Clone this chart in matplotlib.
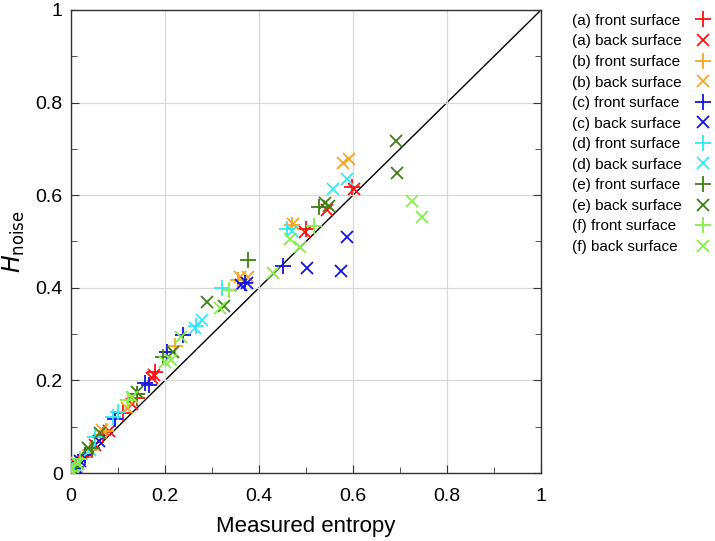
import matplotlib
matplotlib.use("Agg")
import matplotlib.pyplot as plt
from matplotlib.ticker import MultipleLocator, FuncFormatter

plt.rcParams['font.family'] = ['Liberation Sans', 'DejaVu Sans']

labels = ["(a) front surface", "(a) back surface", "(b) front surface", "(b) back surface",
          "(c) front surface", "(c) back surface", "(d) front surface", "(d) back surface",
          "(e) front surface", "(e) back surface", "(f) front surface", "(f) back surface"]
colors = ["#ff1010", "#ff1010", "#f5a623", "#f5a623", "#1414e0", "#1414e0",
          "#30e8f8", "#30e8f8", "#3f7f14", "#3f7f14", "#84f048", "#84f048"]
markers = ["+", "x"] * 6

a_front_x = [0.005, 0.03, 0.069, 0.11, 0.141, 0.179, 0.501, 0.597]
a_front_y = [0.01, 0.035, 0.082, 0.13, 0.161, 0.219, 0.528, 0.618]
a_back_x = [0.01, 0.05, 0.08, 0.13, 0.177, 0.172, 0.545, 0.602, 0.498]
a_back_y = [0.012, 0.06, 0.09, 0.15, 0.212, 0.205, 0.567, 0.613, 0.52]
b_front_x = [0.008, 0.04, 0.075, 0.14, 0.221, 0.356, 0.47]
b_front_y = [0.01, 0.05, 0.09, 0.17, 0.274, 0.417, 0.535]
b_back_x = [0.01, 0.067, 0.12, 0.377, 0.36, 0.473, 0.579, 0.592]
b_back_y = [0.015, 0.093, 0.14, 0.423, 0.423, 0.538, 0.669, 0.678]
c_front_x = [0.005, 0.03, 0.094, 0.157, 0.165, 0.204, 0.239, 0.452, 0.37]
c_front_y = [0.008, 0.039, 0.116, 0.194, 0.19, 0.262, 0.298, 0.447, 0.41]
c_back_x = [0.01, 0.02, 0.06, 0.361, 0.374, 0.503, 0.574, 0.588]
c_back_y = [0.01, 0.025, 0.07, 0.406, 0.41, 0.442, 0.436, 0.509]
d_front_x = [0.005, 0.051, 0.09, 0.101, 0.267, 0.321, 0.459]
d_front_y = [0.007, 0.078, 0.122, 0.132, 0.317, 0.399, 0.528]
d_back_x = [0.015, 0.04, 0.264, 0.278, 0.47, 0.557, 0.587]
d_back_y = [0.02, 0.05, 0.313, 0.33, 0.523, 0.613, 0.634]
e_front_x = [0.01, 0.045, 0.14, 0.196, 0.376, 0.528]
e_front_y = [0.012, 0.055, 0.17, 0.251, 0.46, 0.575]
e_back_x = [0.037, 0.062, 0.141, 0.218, 0.29, 0.326, 0.54, 0.548, 0.693, 0.691]
e_back_y = [0.053, 0.086, 0.176, 0.262, 0.37, 0.361, 0.584, 0.577, 0.649, 0.718]
f_front_x = [0.003, 0.02, 0.122, 0.337, 0.516]
f_front_y = [0.005, 0.03, 0.158, 0.395, 0.533]
f_back_x = [0.0, 0.012, 0.129, 0.2, 0.212, 0.233, 0.316, 0.43, 0.466, 0.487, 0.726, 0.747]
f_back_y = [0.006, 0.021, 0.165, 0.24, 0.245, 0.293, 0.356, 0.431, 0.505, 0.489, 0.587, 0.552]

xs = [a_front_x, a_back_x, b_front_x, b_back_x, c_front_x, c_back_x,
      d_front_x, d_back_x, e_front_x, e_back_x, f_front_x, f_back_x]
ys = [a_front_y, a_back_y, b_front_y, b_back_y, c_front_y, c_back_y,
      d_front_y, d_back_y, e_front_y, e_back_y, f_front_y, f_back_y]

fig = plt.figure(figsize=(7.15, 5.41), dpi=100)
ax = fig.add_axes([71/715, 68/541, 470/715, 463/541])

ax.plot([0, 1], [0, 1], color="black", lw=1.0, zorder=1)
for x, y, c, m, lab in zip(xs, ys, colors, markers, labels):
    ax.plot(x, y, linestyle="none", marker=m, color=c, markersize=11 if m == "+" else 9,
            markeredgewidth=1.3, label=lab, zorder=3)

ax.set_xlim(0, 1)
ax.set_ylim(0, 1)
ax.xaxis.set_major_locator(MultipleLocator(0.2))
ax.yaxis.set_major_locator(MultipleLocator(0.2))
ax.xaxis.set_minor_locator(MultipleLocator(0.1))
ax.yaxis.set_minor_locator(MultipleLocator(0.1))
fmt = FuncFormatter(lambda v, p: "%g" % round(v, 1))
ax.xaxis.set_major_formatter(fmt)
ax.yaxis.set_major_formatter(fmt)
ax.grid(True, which="major", color="#d8d8d8", lw=0.9, zorder=0)
ax.tick_params(which="both", direction="in", top=False, right=True, labelsize=14,
               color="#333333", pad=6)
ax.tick_params(axis="x", which="major", pad=11)
ax.tick_params(which="major", length=6)
ax.tick_params(which="minor", length=4)
for s in ax.spines.values():
    s.set_color("#333333")
    s.set_linewidth(1.0)

ax.set_xlabel("Measured entropy", fontsize=16, labelpad=8)
ax.set_ylabel(r"$\it{H}_{\rm noise}$", fontsize=17, labelpad=6)

leg = ax.legend(loc="upper left", bbox_to_anchor=(1.053, 1.005), frameon=False, markerfirst=False,
                fontsize=11, handlelength=1.0, handletextpad=0.9, labelspacing=0.43, borderaxespad=0)

# left-align legend texts while keeping markers in one column
try:
    fig.canvas.draw()
    renderer = fig.canvas.get_renderer()
    texts = leg.get_texts()
    widths = [t.get_window_extent(renderer).width for t in texts]
    wmax = max(widths)
    rows = []
    for col in leg._legend_handle_box.get_children():
        col.align = "left"
        rows.extend(col.get_children())
    for row, w in zip(rows, widths):
        row.sep = row.sep + (wmax - w) * 72.0 / fig.dpi
except Exception:
    pass

fig.savefig("out.png", dpi=100)
